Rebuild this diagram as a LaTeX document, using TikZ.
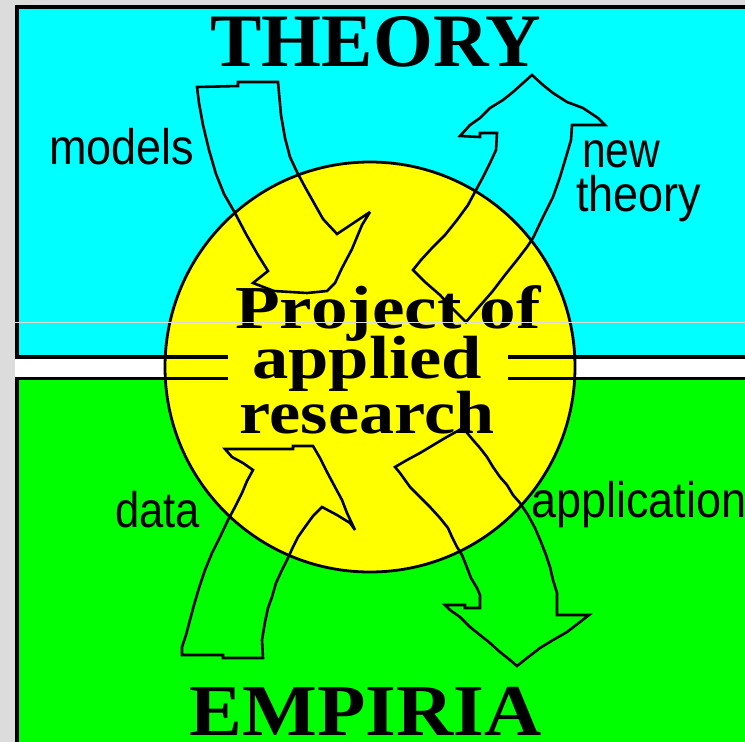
\documentclass[tikz,border=0pt]{standalone}
\usepackage{fontspec}
\usepackage{graphicx}
\newfontfamily\lblfont{Liberation Sans}
\newfontfamily\ttlfont{Liberation Serif}
\definecolor{bgray}{HTML}{DCDCDC}
\definecolor{cyanc}{HTML}{00FFFF}
\definecolor{greenc}{HTML}{00FF00}
\definecolor{yelc}{HTML}{FFFF00}
\newcommand{\hsc}[2]{\scalebox{#1}[1]{#2}}
\tikzset{
  bigarrow/.style={draw=black, line width=2.6pt, line join=miter, miter limit=4},
  boxframe/.style={draw=black, line width=4pt},
  lbl/.style={inner sep=0pt, anchor=base west, font=\lblfont\fontsize{50}{56}\selectfont},
  ttl/.style={inner sep=0pt, anchor=base, font=\ttlfont\bfseries\fontsize{74}{80}\selectfont},
  ctr/.style={inner sep=0pt, anchor=base, font=\ttlfont\bfseries\fontsize{61}{66}\selectfont}
}
\begin{document}
\begin{tikzpicture}[x=1pt,y=-1pt]
\useasboundingbox (0,0) rectangle (745,742);
\begin{scope}
\clip (0,0) rectangle (745,742);
\fill[bgray] (0,0) rectangle (745,742);
\fill[white] (15,357) rectangle (745,379);
% boxes
\filldraw[fill=cyanc, boxframe] (17,7) rectangle (780,357);
\filldraw[fill=greenc, boxframe, line width=3.5pt] (17,378.5) rectangle (780,780);
% circle
\filldraw[fill=yelc, draw=black, line width=2.8pt] (370,367) circle[radius=205pt];
% border stubs inside circle
\draw[line width=4pt] (150,357) -- (228,357);
\draw[line width=3.5pt] (150,378.5) -- (228,378.5);
\draw[line width=4pt] (508,357) -- (600,357);
\draw[line width=3.5pt] (508,378.5) -- (600,378.5);
% models arrow
\draw[bigarrow] (197,87) -- (238,86) -- (238,82) -- (278,82) -- (281,115) -- (285,138)
  -- (290,157) -- (297,172) -- (305,187) -- (314,203) -- (323,219) -- (337,234)
  -- (370,212) -- (362,225) -- (352,249) -- (342,268) -- (335,283) -- (327,291)
  -- (307,293) -- (274,291) -- (253,283) -- (268,271) -- (258,255) -- (246,234)
  -- (235,213) -- (224,194) -- (216,174) -- (209,150) -- (203,125) -- (199,103) -- cycle;
% new theory arrow
\draw[bigarrow] (532,75) -- (523,83) -- (513,92) -- (503,100) -- (490,108) -- (480,118)
  -- (470,125) -- (460,136) -- (480,137) -- (480,133) -- (497,133) -- (496,150)
  -- (490,163) -- (483,177) -- (476,190) -- (468,205) -- (457,220) -- (445,235)
  -- (432,248) -- (421,260) -- (413,270) -- (425,282) -- (440,295) -- (452,308)
  -- (466,322) -- (478,308) -- (492,292) -- (505,275) -- (517,260) -- (527,247)
  -- (533,238) -- (543,217) -- (553,197) -- (560,177) -- (566,157) -- (571,140)
  -- (572,125) -- (605,125) -- (598,118) -- (583,108) -- (567,102) -- (553,93)
  -- (543,85) -- cycle;
% data arrow
\draw[bigarrow] (182,655) -- (223,655) -- (223,658) -- (263,658) -- (262,640) -- (265,622)
  -- (268,608) -- (272,597) -- (276,583) -- (281,572) -- (287,560) -- (293,547)
  -- (298,537) -- (305,527) -- (313,516) -- (322,507) -- (337,515) -- (350,523)
  -- (355,530) -- (347,513) -- (342,500) -- (335,487) -- (327,472) -- (320,458)
  -- (313,446) -- (293,446) -- (293,449) -- (225,449) -- (232,457) -- (243,463)
  -- (253,470) -- (247,481) -- (242,493) -- (235,507) -- (228,520) -- (220,537)
  -- (212,553) -- (205,570) -- (199,588) -- (194,605) -- (190,620) -- (186,635)
  -- (182,647) -- cycle;
% application arrow
\draw[bigarrow] (463,428) -- (445,438) -- (430,447) -- (420,453) -- (407,460) -- (395,467)
  -- (400,473) -- (410,487) -- (420,497) -- (430,507) -- (440,518) -- (448,528)
  -- (452,537) -- (457,547) -- (462,555) -- (466,565) -- (471,578) -- (477,588)
  -- (480,595) -- (480,608) -- (465,608) -- (465,605) -- (445,605) -- (450,610)
  -- (460,617) -- (470,627) -- (480,635) -- (490,643) -- (500,652) -- (510,660)
  -- (517,666) -- (527,658) -- (540,648) -- (553,640) -- (567,632) -- (580,622)
  -- (589,615) -- (557,615) -- (557,593) -- (553,580) -- (550,567) -- (546,555)
  -- (541,542) -- (535,528) -- (528,515) -- (520,503) -- (513,495) -- (507,485)
  -- (500,477) -- (493,467) -- (487,457) -- (480,448) -- (473,440) -- cycle;
% titles
\node[ttl, font=\ttlfont\bfseries\fontsize{75.5}{80}\selectfont] (theory) at (376,66) {\hsc{1.02}{THEORY}};
\node[ttl, font=\ttlfont\bfseries\fontsize{73}{80}\selectfont] (empiria) at (366,735) {\hsc{1.085}{EMPIRIA}};
% centre text
\node[ctr] (proj) at (388,328) {\hsc{1.2}{Project of}};
\node[ctr] (appl) at (367,378) {\hsc{1.19}{applied}};
\node[ctr] (res) at (367,433) {\hsc{1.15}{research}};
% labels
\node[lbl] (models) at (49,164) {\hsc{0.9}{models}};
\node[lbl] (new) at (582,167) {\hsc{0.85}{new}};
\node[lbl] (theo) at (576,211) {\hsc{0.9}{theory}};
\node[lbl] (data) at (115,527) {\hsc{0.87}{data}};
\node[lbl] (appli) at (531,517) {\hsc{0.9}{application}};
% faint seam line
\draw[bgray, line width=1pt] (15,322) -- (745,322);
\end{scope}
\end{tikzpicture}
\end{document}
